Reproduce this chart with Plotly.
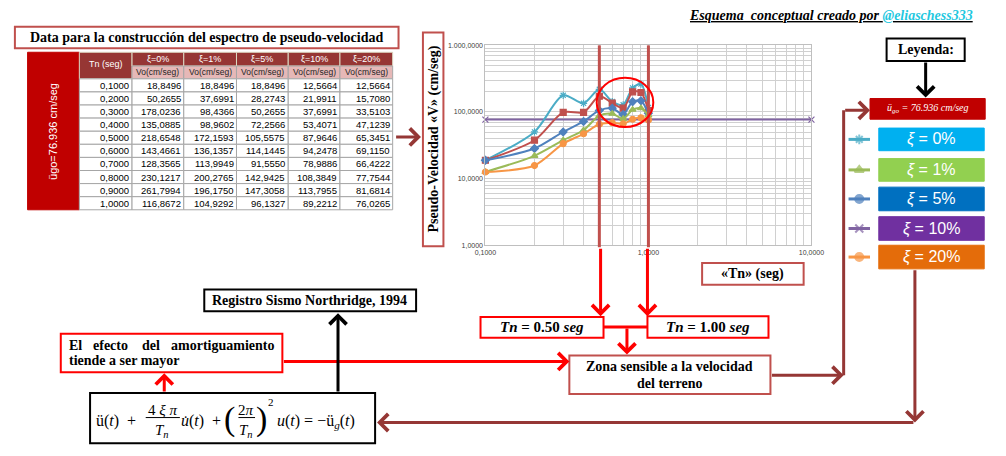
import plotly.graph_objects as go

# ---------------- data ----------------
tn = [0.1, 0.2, 0.3, 0.4, 0.5, 0.6, 0.7, 0.8, 0.9, 1.0]
xi0 = [18.8496, 50.2655, 178.0236, 135.0885, 218.6548, 143.4661, 128.3565, 230.1217, 261.7994, 116.8672]
xi1 = [18.8496, 37.6991, 98.4366, 98.9602, 172.1593, 136.1357, 113.9949, 200.2765, 196.1750, 104.9292]
xi5 = [18.8496, 28.2743, 50.2655, 72.2566, 105.5575, 114.1445, 91.5550, 142.9425, 147.3058, 96.1327]
xi10 = [12.5664, 21.9911, 37.6991, 53.4071, 87.9646, 94.2478, 78.9886, 108.3849, 113.7955, 89.2212]
xi20 = [12.5664, 15.7080, 33.5103, 47.1239, 65.3451, 69.1150, 66.4222, 77.7544, 81.6814, 76.0265]
ugo = 76.936
ugo_x = [0.1, 10.0]
damping_headers = ["ξ=0%", "ξ=1%", "ξ=5%", "ξ=10%", "ξ=20%"]
legend_labels = ["ξ = 0%", "ξ = 1%", "ξ = 5%", "ξ = 10%", "ξ = 20%"]
zone_limits = [0.5, 1.0]
x_ticks = [0.1, 1.0, 10.0]
x_ticktext = ["0,1000", "1,0000", "10,0000"]
y_ticks = [1, 10, 100, 1000]
y_ticktext = ["1,0000", "10,0000", "100,0000", "1.000,0000"]

SERIF = "Liberation Serif"
SANS = "Liberation Sans"
W, H = 1006, 456


def fmt(v):
    return f"{v:.4f}".replace(".", ",")


fig = go.Figure()

# ---------------- chart ----------------
series = [
    ("ügo", ugo_x, [ugo] * len(ugo_x), "#8064A2", "x-thin-open", 6, "linear"),
    ("ξ=0%", tn, xi0, "#4BACC6", "asterisk-open", 6, "spline"),
    ("ξ=1%", tn, xi1, "#C0504D", "square", 6, "spline"),
    ("ξ=5%", tn, xi5, "#4F81BD", "diamond", 6, "spline"),
    ("ξ=10%", tn, xi10, "#9BBB59", "triangle-up", 6, "spline"),
    ("ξ=20%", tn, xi20, "#F79646", "circle", 6, "spline"),
]
for name, xs, ys, col, sym, sz, shape in series:
    fig.add_trace(go.Scatter(
        x=xs, y=ys, name=name, mode="lines+markers",
        line=dict(color=col, width=2, shape=shape, smoothing=0.8),
        marker=dict(symbol=sym, size=sz, color=col, line=dict(color=col, width=1.2)),
        xaxis="x", yaxis="y", showlegend=False, cliponaxis=False,
    ))


def minor_vals(decades):
    vals = []
    for e in decades:
        for m in range(1, 10):
            vals.append(m * 10 ** e)
    return vals


def labels_for(vals, ticks, texts):
    out = []
    for v in vals:
        lab = ""
        for t, s in zip(ticks, texts):
            if abs(v - t) < 1e-9:
                lab = s
        out.append(lab)
    return out


xv = minor_vals([-1, 0]) + [10.0]
yv = minor_vals([0, 1, 2]) + [1000.0]
xt = labels_for(xv, x_ticks, x_ticktext)
yt = labels_for(yv, y_ticks, y_ticktext)

fig.update_layout(
    xaxis=dict(type="log", range=[-1, 1], domain=[486 / W, 820 / W], anchor="y",
               tickvals=xv, ticktext=xt, showgrid=True, gridcolor="#D0D0D0", gridwidth=1,
               showline=True, linecolor="#BFBFBF", mirror=True, ticks="", zeroline=False,
               tickfont=dict(family=SANS, size=7, color="#404040")),
    yaxis=dict(type="log", range=[0, 3], domain=[1 - 245 / H, 1 - 42 / H], anchor="x",
               tickvals=yv, ticktext=yt, showgrid=True, gridcolor="#D0D0D0", gridwidth=1,
               showline=True, linecolor="#BFBFBF", mirror=True, ticks="", zeroline=False,
               tickfont=dict(family=SANS, size=7, color="#404040")),
    xaxis2=dict(domain=[0, 1], range=[0, W], visible=False, anchor="y2", fixedrange=True),
    yaxis2=dict(domain=[0, 1], range=[H, 0], visible=False, anchor="x2", fixedrange=True),
)

shapes = []
annots = []


def rect(x0, y0, x1, y1, line="#C0504D", fill="white", width=2):
    shapes.append(dict(type="rect", xref="x2", yref="y2", x0=x0, y0=y0, x1=x1, y1=y1,
                       line=dict(color=line, width=width), fillcolor=fill, layer="above"))


def seg(x0, y0, x1, y1, color, width=3):
    shapes.append(dict(type="line", xref="x2", yref="y2", x0=x0, y0=y0, x1=x1, y1=y1,
                       line=dict(color=color, width=width), layer="above"))


def arrow(xt_, yt_, xh, yh, color, width=3):
    annots.append(dict(xref="x2", yref="y2", axref="x2", ayref="y2", x=xh, y=yh, ax=xt_, ay=yt_,
                       text="", showarrow=True, arrowhead=4, arrowsize=1.1, arrowwidth=width,
                       arrowcolor=color, standoff=0, startstandoff=0))


def text(x, y, t, size=14, color="black", family=SERIF, xanchor="center", yanchor="middle", angle=0):
    annots.append(dict(xref="x2", yref="y2", x=x, y=y, text=t, showarrow=False,
                       font=dict(family=family, size=size, color=color),
                       xanchor=xanchor, yanchor=yanchor, textangle=angle, borderpad=0))


# vertical zone lines inside the plot
for z in zone_limits:
    shapes.append(dict(type="line", xref="x", yref="y domain", x0=z, x1=z, y0=-0.01, y1=1,
                       line=dict(color="#C0504D", width=3), layer="above"))

# red ellipse
shapes.append(dict(type="circle", xref="x2", yref="y2", x0=600, y0=75, x1=658, y1=125,
                   line=dict(color="#FF0000", width=2), layer="above"))

# ---------------- header credit ----------------
annots.append(dict(xref="x2", yref="y2", x=988, y=12, xanchor="right", yanchor="middle", showarrow=False,
                   text="<b><i><u>Esquema  conceptual creado por </u></i></b>"
                        "<b><i><u><span style='color:#1FC8E0'>@eliaschess333</span></u></i></b>",
                   font=dict(family=SERIF, size=14, color="black")))

# ---------------- table ----------------
rect(4, 23, 397, 45, line="#C0504D", width=2)
text(200, 34, "<b>Data para la construcción del espectro de pseudo-velocidad</b>", size=14)

col_edges = [70, 124, 177, 231, 284, 337, 391]
row_top = 76
row_h = 13.3
rect(17, 49, 70, row_top + row_h * len(tn), line="#C00000", fill="#C00000", width=1)
text(43, (49 + row_top + row_h * len(tn)) / 2, "ügo=76.936 cm/seg", size=11, color="white",
     family=SANS, angle=-90)
rect(col_edges[0], 49, col_edges[1], 76, line="#DDD9C4", fill="#963634", width=1)
text((col_edges[0] + col_edges[1]) / 2, 61, "Tn (seg)", size=9, color="white", family=SANS)
for j, hd in enumerate(damping_headers):
    x0, x1 = col_edges[j + 1], col_edges[j + 2]
    rect(x0, 49, x1, 63, line="#DDD9C4", fill="#963634", width=1)
    text((x0 + x1) / 2, 56, hd, size=9, color="white", family=SANS)
    rect(x0, 63, x1, 76, line="#A6A6A6", fill="#E6B8B7", width=1)
    text((x0 + x1) / 2, 69.5, "Vo(cm/seg)", size=8.5, color="#262626", family=SANS)

table_cols = [tn, xi0, xi1, xi5, xi10, xi20]
for i in range(len(tn)):
    y0 = row_top + i * row_h
    y1 = y0 + row_h
    for j, col in enumerate(table_cols):
        x0, x1 = col_edges[j], col_edges[j + 1]
        rect(x0, y0, x1, y1, line="#A6A6A6", fill="white", width=1)
        text(x1 - 2, (y0 + y1) / 2, fmt(col[i]), size=9.5, color="black", family=SANS, xanchor="right")

# arrow table -> chart
arrow(393, 135, 420, 135, "#953735")

# ---------------- axis title boxes ----------------
rect(422, 29, 443, 246, line="#C0504D", width=2)
text(433, 137, "<b>Pseudo-Velocidad «V» (cm/seg)</b>", size=14, angle=-90)
rect(708, 263, 812, 285, line="#C0504D", width=2)
text(760, 274, "<b>«Tn» (seg)</b>", size=14)

# ---------------- Tn zone arrows ----------------
arrow(604, 247, 604, 317, "#FF0000")
arrow(652, 247, 652, 317, "#FF0000")
rect(481, 318, 607, 339, line="#FF0000", width=2)
text(544, 328.5, "<b><i>Tn</i> = 0.50 <i>seg</i></b>", size=15)
rect(652, 317, 776, 339, line="#FF0000", width=2)
text(714, 328, "<b><i>Tn</i> = 1.00 <i>seg</i></b>", size=15)
seg(607, 328, 652, 328, "#FF0000")
arrow(631, 328, 631, 356, "#FF0000")

rect(572, 357, 778, 396, line="#C0504D", width=2)
text(675, 368, "<b>Zona sensible a la velocidad</b>", size=14)
text(675, 385, "<b>del terreno</b>", size=14)

# ---------------- left notes ----------------
rect(51, 335, 278, 374, line="#FF0000", width=2)
for w, xw in [("El", 58), ("efecto", 83), ("del", 133), ("amortiguamiento", 163)]:
    text(xw, 347, f"<b>{w}</b>", size=14, xanchor="left")
text(58, 362, "<b>tiende a ser mayor</b>", size=14, xanchor="left")
arrow(278, 363, 572, 363, "#FF0000")

rect(198, 290, 415, 312, line="black", width=2)
text(306, 301, "<b>Registro Sismo Northridge, 1994</b>", size=14)

# equation box
rect(81, 395, 373, 446, line="black", width=2)
arrow(157, 395, 157, 375, "#FF0000")
arrow(335, 395, 335, 314, "black")
EQ = 16
text(86, 424, "ü(<i>t</i>)  +", size=EQ, xanchor="left")
text(155, 412, "4 <i>ξ π</i>", size=EQ - 1)
seg(138, 420, 173, 420, "black", width=1)
text(155, 434, "<i>T<sub>n</sub></i>", size=EQ - 1)
text(173, 424, "<i>u̇</i>(<i>t</i>)  +", size=EQ, xanchor="left")
text(224, 421, "(", size=34, family=SERIF)
text(241, 412, "2<i>π</i>", size=EQ - 1)
seg(233, 420, 250, 420, "black", width=1)
text(241, 434, "<i>T<sub>n</sub></i>", size=EQ - 1)
text(257, 421, ")", size=34, family=SERIF)
text(266, 404, "2", size=11)
text(271, 424, "<i>u</i>(<i>t</i>) = −ü<sub><i>g</i></sub>(<i>t</i>)", size=EQ, xanchor="left")

# ---------------- legend ----------------
rect(897, 35, 977, 58, line="black", width=2)
text(937, 46.5, "<b>Leyenda:</b>", size=14)
arrow(937, 58, 937, 95, "black")
rect(880, 96, 998, 117, line="#C00000", fill="#C00000", width=1)
text(939, 106.5, "<i>ü<sub>go</sub> = 76.936 cm/seg</i>", size=10, color="white", family=SERIF)

legend_boxes = [
    (126, 149, "#00B0F0"),
    (157, 180, "#92D050"),
    (186, 210, "#0070C0"),
    (216, 240, "#7030A0"),
    (245, 269, "#E46C0A"),
]
leg_styles = [
    ("#4BACC6", "asterisk-open"),
    ("#9BBB59", "triangle-up"),
    ("#4F81BD", "circle"),
    ("#8064A2", "x-thin-open"),
    ("#F79646", "circle"),
]
for (y0, y1, c), lab, (lc, sym) in zip(legend_boxes, legend_labels, leg_styles):
    rect(889, y0, 997, y1, line=c, fill=c, width=1)
    text(943, (y0 + y1) / 2, lab.replace("ξ", "<i>ξ</i>"), size=16, color="white", family=SANS)
    ym = (y0 + y1) / 2
    fig.add_trace(go.Scatter(x=[858, 869, 880], y=[ym, ym, ym], mode="lines+markers",
                             xaxis="x2", yaxis="y2", showlegend=False, hoverinfo="skip",
                             line=dict(color=lc, width=3),
                             marker=dict(symbol=sym, size=[0, 8, 0], color=lc,
                                         line=dict(color=lc, width=2))))

# brown connectors
arrow(778, 377, 853, 377, "#953735")
seg(853, 377, 853, 108, "#953735")
arrow(853, 108, 880, 108, "#953735")
arrow(926, 269, 926, 425, "#953735")
arrow(926, 425, 375, 425, "#953735")

fig.update_layout(
    width=W, height=H, margin=dict(l=0, r=0, t=0, b=0),
    paper_bgcolor="white", plot_bgcolor="rgba(0,0,0,0)",
    shapes=shapes, annotations=annots, showlegend=False,
)

fig.write_html("out.html", config={"displayModeBar": False},
               post_script="document.body.style.margin='0';document.body.style.overflow='hidden';")
